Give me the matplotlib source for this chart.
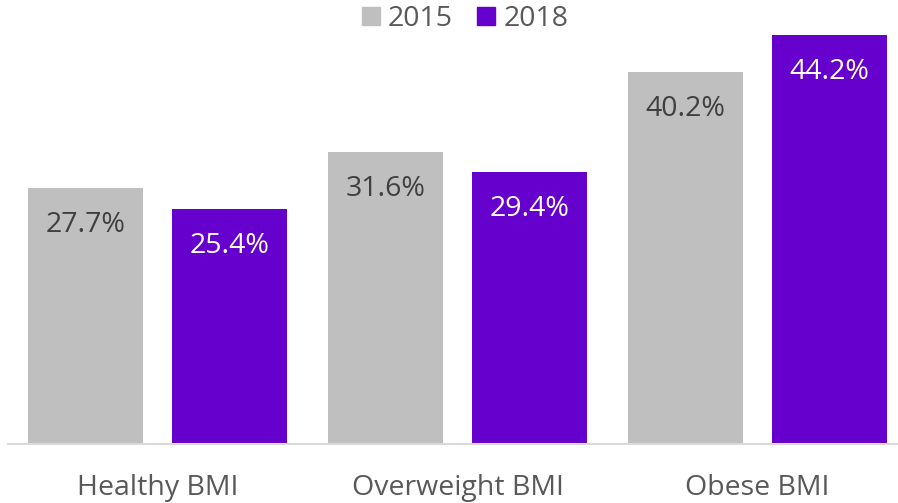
import matplotlib
matplotlib.use("Agg")
import matplotlib.pyplot as plt
from matplotlib.patches import Patch

categories = ["Healthy BMI", "Overweight BMI", "Obese BMI"]
series_names = ["2015", "2018"]
values_2015 = [27.7, 31.6, 40.2]
values_2018 = [25.4, 29.4, 44.2]

gray = "#BFBFBF"
purple = "#6600CC"
font = "Open Sans"

W, H, DPI = 898, 503, 100
fig = plt.figure(figsize=(W / DPI, H / DPI), dpi=DPI)
base_px = 444
ymax = 46
px_per_unit = 9.25
ax_h = ymax * px_per_unit
ax = fig.add_axes([0, (H - base_px) / H, 1, ax_h / H])
ax.set_ylim(0, ymax)
ax.set_xlim(-0.525, (W - 157.5) / 300)

width = 115 / 300
off = 72 / 300
x = list(range(len(categories)))
b1 = ax.bar([i - off for i in x], values_2015, width, color=gray, zorder=2)
b2 = ax.bar([i + off for i in x], values_2018, width, color=purple, zorder=2)

fs = 20.5
for bars, vals, col in ((b1, values_2015, "#404040"), (b2, values_2018, "white")):
    for r, v in zip(bars, vals):
        ax.annotate(f"{v:.1f}%", xy=(r.get_x() + r.get_width() / 2, v),
                    xytext=(0, -44 * 72 / DPI), textcoords="offset points",
                    ha="center", va="baseline", color=col, fontsize=fs, family=font)

for i, c in enumerate(categories):
    ax.annotate(c, xy=(i, 0), xycoords=("data", "axes fraction"),
                xytext=(0, -51 * 72 / DPI), textcoords="offset points",
                ha="center", va="baseline", color="#595959", fontsize=fs, family=font,
                annotation_clip=False)

for s in ["top", "right", "left"]:
    ax.spines[s].set_visible(False)
ax.spines["bottom"].set_color("#D9D9D9")
ax.spines["bottom"].set_linewidth(1.5)
ax.spines["bottom"].set_bounds(-0.5, 3)
ax.set_xticks([])
ax.set_yticks([])

handles = [Patch(color=gray), Patch(color=purple)]
leg = fig.legend(handles, series_names, loc="center", bbox_to_anchor=(0.518, 1 - 19 / H),
                 ncol=2, frameon=False, handlelength=0.63, handleheight=0.63,
                 handletextpad=0.28, columnspacing=0.85, borderpad=0,
                 prop={"family": font, "size": fs})
for t in leg.get_texts():
    t.set_color("#595959")

fig.savefig("out.png", dpi=DPI)
